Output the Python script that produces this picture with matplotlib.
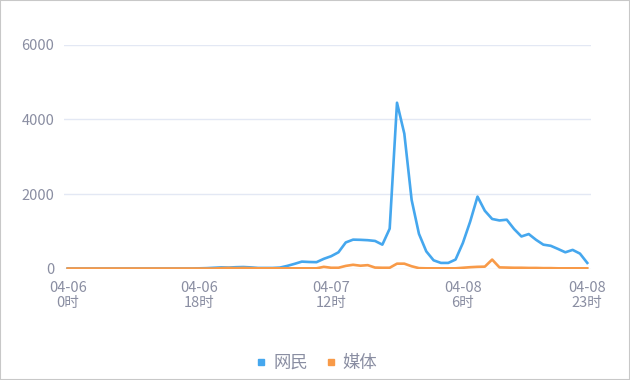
import numpy as np
import matplotlib
matplotlib.use("Agg")
import matplotlib.pyplot as plt
from matplotlib.patches import Rectangle
from matplotlib.lines import Line2D

plt.rcParams['font.family'] = ['Noto Sans CJK SC', 'DejaVu Sans']

# hourly data, 04-06 0时 .. 04-08 23时
hours = np.arange(72)
netizens = [0] * 18 + [5, 10, 20, 30, 25, 35, 40, 30, 15, 15, 15, 25, 70, 125,
            185, 175, 170, 260, 330, 435, 700, 775, 770, 760, 740, 640, 1070,
            4450, 3620, 1840, 930, 460, 220, 150, 150, 240, 685, 1260, 1930,
            1550, 1330, 1290, 1310, 1060, 860, 925, 770, 640, 610, 525, 435,
            500, 400, 150]
media = [0] * 21 + [10, 15, 10, 15, 10, 5, 5, 5, 5, 5, 5, 5, 5, 5, 45, 20, 20,
         70, 100, 75, 90, 25, 20, 20, 130, 130, 60, 10, 5, 5, 5, 5, 5, 20, 35,
         45, 50, 240, 30, 25, 20, 20, 15, 15, 10, 10, 5, 5, 5, 5, 5]
series_names = ["网民", "媒体"]
colors = ["#45a7ee", "#f89a48"]
tick_pos = [0, 18, 36, 54, 71]
tick_labels = ["04-06\n0时", "04-06\n18时", "04-07\n12时", "04-08\n6时", "04-08\n23时"]
y_ticks = [0, 2000, 4000, 6000]

text_color = "#8a8ea2"

fig = plt.figure(figsize=(6.3, 3.8), dpi=100)
ax = fig.add_axes([0.1016, 0.2934, 0.8364, 0.5882])

for vals, name, c in zip([netizens, media], series_names, colors):
    ax.plot(hours, vals, color=c, lw=1.9, label=name, solid_joinstyle='round')

ax.set_xlim(-0.5, 71.5)
ax.set_ylim(0, 6000)
ax.set_yticks(y_ticks)
ax.set_yticklabels([str(v) for v in y_ticks])
ax.set_xticks(tick_pos)
ax.set_xticklabels(tick_labels, linespacing=1.05)
ax.tick_params(axis='x', length=0, pad=9, labelsize=10.5, colors=text_color)
ax.tick_params(axis='y', length=0, pad=7, labelsize=10.5, colors=text_color)
ax.grid(axis='y', color="#e3e8f4", lw=1)
ax.set_axisbelow(True)
for s in ax.spines.values():
    s.set_visible(False)

handles = [Line2D([], [], marker='s', ls='', color=c, markersize=5) for c in colors]
leg = fig.legend(handles, series_names, loc='center', bbox_to_anchor=(0.5, 0.045),
                 ncol=2, frameon=False, fontsize=12.5, handletextpad=0.2,
                 columnspacing=0.8, handlelength=1.0)
for t in leg.get_texts():
    t.set_color(text_color)

fig.patches.append(Rectangle((0, 0), 1, 1, transform=fig.transFigure,
                             fill=False, edgecolor="#c8c8c8", lw=1.5))

fig.savefig("out.png", dpi=100)
